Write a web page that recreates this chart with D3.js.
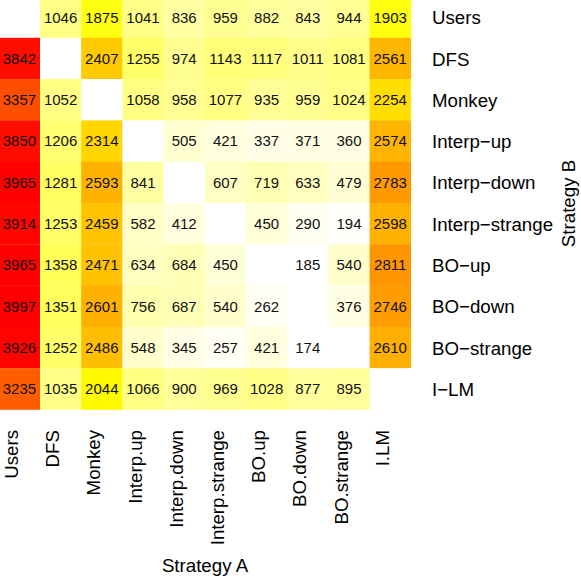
<!DOCTYPE html>
<html>
<head>
<meta charset="utf-8">
<script src="https://cdn.jsdelivr.net/npm/d3@7"></script>
<style>
  body { margin: 0; background: #fff; }
  text { font-family: "Liberation Sans", Arial, Helvetica, sans-serif; }
</style>
</head>
<body>
<div id="wrapper"></div>
<script>
// column categories (Strategy A) and row categories (Strategy B)
const colLabels = ['Users', 'DFS', 'Monkey', 'Interp.up', 'Interp.down', 'Interp.strange', 'BO.up', 'BO.down', 'BO.strange', 'I.LM']
const rowLabels = ['Users', 'DFS', 'Monkey', 'Interp\u2212up', 'Interp\u2212down', 'Interp\u2212strange', 'BO\u2212up', 'BO\u2212down', 'BO\u2212strange', 'I\u2212LM']

// one array per row (Strategy B), values per column (Strategy A), null = empty diagonal
const rowUsers = [null, 1046, 1875, 1041, 836, 959, 882, 843, 944, 1903]
const rowDFS = [3842, null, 2407, 1255, 974, 1143, 1117, 1011, 1081, 2561]
const rowMonkey = [3357, 1052, null, 1058, 958, 1077, 935, 959, 1024, 2254]
const rowInterpUp = [3850, 1206, 2314, null, 505, 421, 337, 371, 360, 2574]
const rowInterpDown = [3965, 1281, 2593, 841, null, 607, 719, 633, 479, 2783]
const rowInterpStrange = [3914, 1253, 2459, 582, 412, null, 450, 290, 194, 2598]
const rowBOUp = [3965, 1358, 2471, 634, 684, 450, null, 185, 540, 2811]
const rowBODown = [3997, 1351, 2601, 756, 687, 540, 262, null, 376, 2746]
const rowBOStrange = [3926, 1252, 2486, 548, 345, 257, 421, 174, null, 2610]
const rowILM = [3235, 1035, 2044, 1066, 900, 969, 1028, 877, 895, null]

const rows = [rowUsers, rowDFS, rowMonkey, rowInterpUp, rowInterpDown, rowInterpStrange, rowBOUp, rowBODown, rowBOStrange, rowILM]

const drawHeatmap = () => {
    const width = 581
    const height = 581

    const cells = []
    rows.forEach((vals, r) => {
        vals.forEach((v, c) => {
            cells.push({ row: rowLabels[r], col: colLabels[c], value: v })
        })
    })

    const svg = d3.select('#wrapper')
        .append('svg')
        .attr('width', width)
        .attr('height', height)

    const scaleX = d3.scaleBand()
        .domain(colLabels)
        .range([-1.2, 410.8])

    const scaleY = d3.scaleBand()
        .domain(rowLabels)
        .range([-3.5, 409.5])

    const allValues = cells.filter(d => d.value != null).map(d => d.value)
    const color = d3.scaleLinear()
        .domain([d3.min(allValues), 2000, 3950])
        .range(['#ffffff', '#ffff00', '#ff0000'])
        .clamp(true)

    const grid = svg.append('g')

    grid.selectAll('rect')
        .data(cells)
        .join('rect')
        .attr('x', d => scaleX(d.col))
        .attr('y', d => scaleY(d.row))
        .attr('width', scaleX.bandwidth() + 0.3)
        .attr('height', scaleY.bandwidth() + 0.3)
        .attr('fill', d => d.value == null ? '#ffffff' : color(d.value))

    grid.selectAll('text')
        .data(cells.filter(d => d.value != null))
        .join('text')
        .text(d => d.value)
        .attr('x', d => scaleX(d.col) + scaleX.bandwidth() / 2)
        .attr('y', d => scaleY(d.row) + scaleY.bandwidth() / 2)
        .attr('dy', '0.36em')
        .attr('text-anchor', 'middle')
        .attr('fill', '#111')
        .style('font-size', '15px')

    // row labels (right side)
    svg.append('g')
        .selectAll('text')
        .data(rowLabels)
        .join('text')
        .text(d => d)
        .attr('x', 432)
        .attr('y', d => scaleY(d) + scaleY.bandwidth() / 2)
        .attr('dy', '0.38em')
        .attr('fill', '#000')
        .style('font-size', '18.7px')

    // column labels (bottom, rotated)
    svg.append('g')
        .selectAll('text')
        .data(colLabels)
        .join('text')
        .text(d => d)
        .attr('transform', d => `translate(${scaleX(d) + scaleX.bandwidth() / 2 - 1.5}, 430) rotate(-90)`)
        .attr('text-anchor', 'end')
        .attr('fill', '#000')
        .style('font-size', '18.7px')

    svg.append('text')
        .text('Strategy A')
        .attr('x', 205)
        .attr('y', 572)
        .attr('text-anchor', 'middle')
        .style('font-size', '18.7px')

    svg.append('text')
        .text('Strategy B')
        .attr('transform', 'translate(575, 203.5) rotate(-90)')
        .attr('text-anchor', 'middle')
        .style('font-size', '18.7px')
}
drawHeatmap()
</script>
</body>
</html>
